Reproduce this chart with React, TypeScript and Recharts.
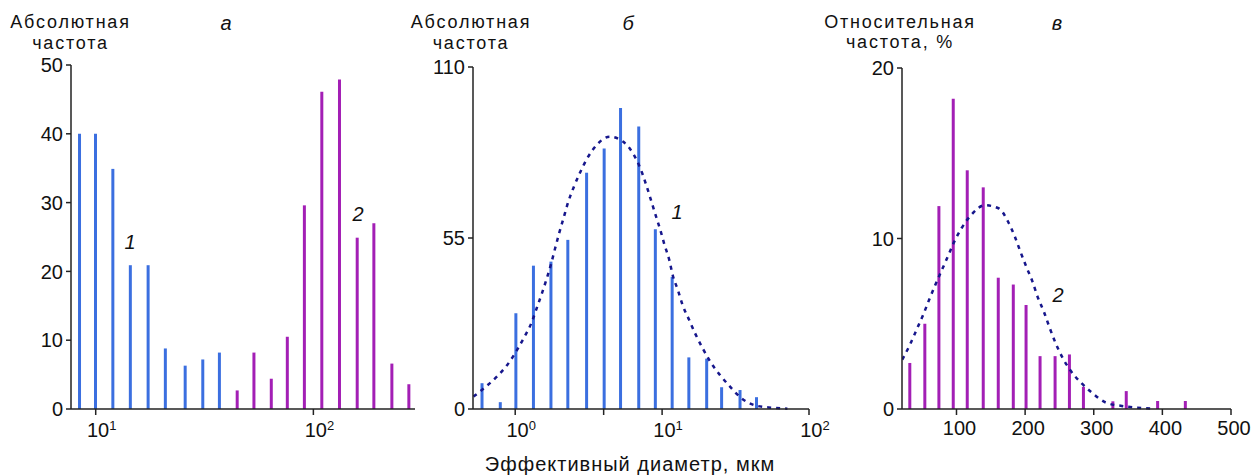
import React from "react";
import { ComposedChart, Bar, Line, XAxis, YAxis } from "recharts";

// panel а — absolute frequency, log x
const A_BLUE_X = [8.47, 10.03, 12.05, 14.5, 17.5, 21.0, 25.9, 31.2, 37.2];
const A_BLUE_Y = [40, 40, 34.9, 20.9, 20.9, 8.8, 6.3, 7.2, 8.2];
const A_PURPLE_X = [44.9, 53.6, 64.4, 76.3, 91.4, 109.9, 132.5, 159.8, 190.6, 230.6, 276];
const A_PURPLE_Y = [2.7, 8.2, 4.4, 10.5, 29.6, 46.1, 47.9, 24.9, 27.0, 6.6, 3.6];

// panel б — absolute frequency, log x, with fitted curve
const B_BLUE_X = [0.594, 0.791, 1.01, 1.33, 1.75, 2.28, 3.06, 4.03, 5.21, 6.93, 8.99, 11.7, 15.2, 20.1, 25.4, 33.9, 43.9];
const B_BLUE_Y = [8.3, 2.2, 30.8, 46.1, 47.4, 54.4, 76, 83.8, 96.8, 90.9, 57.8, 42.5, 16.6, 16.2, 7.0, 6.1, 3.8];
const B_CURVE_X = [0.52, 0.61, 0.75, 0.88, 1.03, 1.14, 1.3, 1.4, 1.52, 1.64, 1.76, 1.87, 1.99, 2.13, 2.3, 2.51, 2.76, 3.09, 3.58, 4.41, 5.42, 6.34, 7.11, 7.73, 8.36, 9.0, 9.72, 10.4, 11.2, 11.8, 12.8, 13.8, 15.3, 16.9, 18.9, 21.3, 24.8, 29, 34.4, 43.5, 55.8, 71.3];
const B_CURVE_Y = [4.0, 6.6, 10.4, 14.1, 19, 22.7, 28.1, 32.4, 37.2, 42, 46.9, 51.7, 56.5, 61.3, 66.7, 71.5, 76, 80.6, 84.9, 87.6, 86, 82.2, 77.4, 72.6, 67.5, 62.6, 57.6, 52.7, 47.9, 43.1, 38.3, 33.4, 28.6, 24, 19.5, 15.2, 10.9, 7.2, 3.6, 1.1, 0.4, 0.1];

// panel в — relative frequency, linear x, with fitted curve
const C_PURPLE_X = [31.8, 53.7, 74.2, 95.1, 115.5, 138.8, 160.7, 182.6, 201.2, 221.6, 243.5, 264.4, 284.8, 327.7, 347.2, 392.9, 433.3];
const C_PURPLE_Y = [2.7, 5.0, 11.9, 18.2, 14.0, 13.0, 7.7, 7.3, 6.1, 3.1, 3.1, 3.2, 1.3, 0.45, 1.05, 0.47, 0.47];
const C_CURVE_X = [21, 31.9, 41.6, 51.2, 60, 68.3, 78.1, 86.9, 96.6, 107.3, 121.9, 141.3, 161.8, 175.4, 185.1, 193.4, 202.2, 210.9, 218.2, 227.4, 235.2, 243.6, 253.3, 266.4, 282.5, 298.5, 318, 340.9, 363.6, 387];
const C_CURVE_Y = [2.9, 3.75, 4.63, 5.5, 6.39, 7.2, 8.1, 8.9, 9.8, 10.6, 11.4, 11.95, 11.76, 10.97, 10.1, 9.2, 8.3, 7.46, 6.58, 5.7, 4.82, 3.94, 3.1, 2.24, 1.5, 0.92, 0.37, 0.18, 0.08, 0.02];

const A_Y_TICKS = [0, 10, 20, 30, 40, 50];
const B_Y_TICKS = [0, 55, 110];
const C_Y_TICKS = [0, 10, 20];
const A_X_TICKS = [10, 100];
const B_X_TICKS = [1, 4, 10, 100];
const C_X_TICKS = [100, 200, 300, 400, 500];

const FONT = '"Liberation Sans", Arial, Helvetica, sans-serif';
const AXIS = "#222";
const TEXT = "#111";
const BLUE = "#3b6fe0";
const PURPLE = "#a31fb5";
const CURVE = "#16168c";

type BarRow = { x: number; blue?: number; purple?: number };
type CurveRow = { x: number; y: number };

function barRows(blueX: number[], blueY: number[], purpleX: number[], purpleY: number[]) {
  const rows: BarRow[] = [
    ...blueX.map((x, i) => ({ x, blue: blueY[i] })),
    ...purpleX.map((x, i) => ({ x, purple: purpleY[i] })),
  ];
  return rows.sort((a, b) => a.x - b.x);
}

function curveRows(xs: number[], ys: number[]): CurveRow[] {
  return xs.map((x, i) => ({ x, y: ys[i] }));
}

const rowsA = barRows(A_BLUE_X, A_BLUE_Y, A_PURPLE_X, A_PURPLE_Y);
const rowsB = barRows(B_BLUE_X, B_BLUE_Y, [], []);
const rowsC = barRows([], [], C_PURPLE_X, C_PURPLE_Y);
const curveB = curveRows(B_CURVE_X, B_CURVE_Y);
const curveC = curveRows(C_CURVE_X, C_CURVE_Y);

function PowerTick(props: any) {
  const { x, y, payload } = props;
  const exp = Math.log10(payload.value);
  if (Math.abs(exp - Math.round(exp)) > 1e-6) return <g />;
  return (
    <text x={x + 6} y={y} dy={20} textAnchor="middle" fill={TEXT} fontSize={20}>
      <tspan>10</tspan>
      <tspan dy={-7} fontSize={13}>
        {Math.round(exp)}
      </tspan>
    </text>
  );
}

function PlainTick(props: any) {
  const { x, y, payload } = props;
  return (
    <text x={x + 3} y={y} dy={18} textAnchor="middle" fill={TEXT} fontSize={20}>
      {payload.value}
    </text>
  );
}

type PanelProps = {
  left: number;
  width: number;
  top: number;
  right: number;
  yWidth: number;
  rows: BarRow[];
  curve?: CurveRow[];
  xDomain: [number, number];
  xTicks: number[];
  log: boolean;
  yDomain: [number, number];
  yTicks: number[];
};

function Panel(p: PanelProps) {
  const scale = p.log ? "log" : "linear";
  return (
    <div style={{ position: "absolute", left: p.left, top: 0 }}>
      <ComposedChart
        width={p.width}
        height={475}
        data={p.rows}
        margin={{ top: p.top, right: p.right, left: 0, bottom: 0 }}
      >
        <XAxis
          dataKey="x"
          type="number"
          scale={scale}
          domain={p.xDomain}
          ticks={p.xTicks}
          interval={0}
          allowDataOverflow
          height={66}
          tickSize={6}
          axisLine={{ stroke: AXIS, strokeWidth: 1.5 }}
          tickLine={{ stroke: AXIS, strokeWidth: 1.5 }}
          tick={p.log ? <PowerTick /> : <PlainTick />}
        />
        {p.curve && (
          <XAxis
            xAxisId="curve"
            dataKey="x"
            type="number"
            scale={scale}
            domain={p.xDomain}
            allowDataOverflow
            height={66}
            hide
          />
        )}
        <YAxis
          type="number"
          domain={p.yDomain}
          ticks={p.yTicks}
          interval={0}
          width={p.yWidth}
          tickSize={5}
          tickMargin={3}
          axisLine={{ stroke: AXIS, strokeWidth: 1.5 }}
          tickLine={{ stroke: AXIS, strokeWidth: 1.5 }}
          tick={{ fill: TEXT, fontSize: 20 }}
        />
        <Bar dataKey="blue" stackId="s" fill={BLUE} barSize={3} isAnimationActive={false} />
        <Bar dataKey="purple" stackId="s" fill={PURPLE} barSize={3} isAnimationActive={false} />
        {p.curve && (
          <Line
            xAxisId="curve"
            data={p.curve}
            dataKey="y"
            type="monotone"
            stroke={CURVE}
            strokeWidth={2.5}
            strokeDasharray="4 5"
            dot={false}
            activeDot={false}
            isAnimationActive={false}
          />
        )}
      </ComposedChart>
    </div>
  );
}

function Labels() {
  const head = { fill: TEXT, fontSize: 18, letterSpacing: 1.8, textAnchor: "middle" as const };
  const italic = { fill: TEXT, fontSize: 20, fontStyle: "italic", textAnchor: "middle" as const };
  return (
    <svg
      width={1253}
      height={475}
      style={{ position: "absolute", left: 0, top: 0, pointerEvents: "none" }}
    >
      <text {...head} x={70.5} y={28}>Абсолютная</text>
      <text {...head} x={70.5} y={48.5}>частота</text>
      <text {...italic} x={226} y={30}>а</text>
      <text {...italic} x={130} y={249}>1</text>
      <text {...italic} x={358} y={221}>2</text>

      <text {...head} x={471} y={28}>Абсолютная</text>
      <text {...head} x={471} y={48.5}>частота</text>
      <text {...italic} x={628} y={30}>б</text>
      <text {...italic} x={677} y={219}>1</text>

      <text {...head} x={900} y={28}>Относительная</text>
      <text {...head} x={900} y={48}>частота, %</text>
      <text {...italic} x={1057} y={30}>в</text>
      <text {...italic} x={1058} y={302}>2</text>

      <text fill={TEXT} fontSize={20} letterSpacing={1} textAnchor="middle" x={630} y={471}>
        Эффективный диаметр, мкм
      </text>
    </svg>
  );
}

export default function App() {
  return (
    <div
      style={{
        position: "absolute",
        left: 0,
        top: 0,
        width: 1253,
        height: 475,
        background: "#fff",
        fontFamily: FONT,
      }}
    >
      <Panel
        left={0}
        width={430}
        top={65}
        right={15}
        yWidth={71}
        rows={rowsA}
        xDomain={[7.7, 293]}
        xTicks={A_X_TICKS}
        log
        yDomain={[0, 50]}
        yTicks={A_Y_TICKS}
      />
      <Panel
        left={400}
        width={445}
        top={67}
        right={36}
        yWidth={73}
        rows={rowsB}
        curve={curveB}
        xDomain={[0.516, 100]}
        xTicks={B_X_TICKS}
        log
        yDomain={[0, 110]}
        yTicks={B_Y_TICKS}
      />
      <Panel
        left={830}
        width={423}
        top={68}
        right={22}
        yWidth={72}
        rows={rowsC}
        curve={curveC}
        xDomain={[20.6, 500]}
        xTicks={C_X_TICKS}
        log={false}
        yDomain={[0, 20]}
        yTicks={C_Y_TICKS}
      />
      <Labels />
    </div>
  );
}
